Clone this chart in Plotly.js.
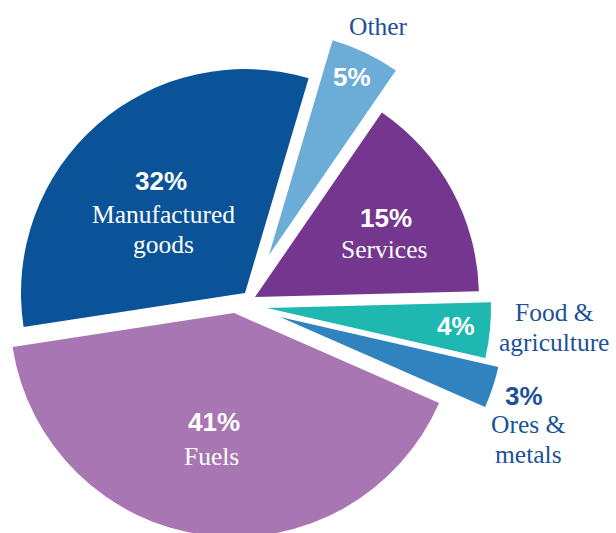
<!DOCTYPE html>
<html>
<head>
<meta charset="utf-8">
<script src="https://cdn.plot.ly/plotly-3.0.1.min.js"></script>
<style>
  html, body { margin: 0; padding: 0; overflow: hidden; background: #ffffff; }
  #chart { width: 616px; height: 560px; }
</style>
</head>
<body>
<div id="chart"></div>
<script>
// ---- data ----
const labels = ['Other', 'Services', 'Food & agriculture', 'Ores & metals', 'Fuels', 'Manufactured goods'];
const values = [5, 15, 4, 3, 41, 32];
const labelLines = [['Other'], ['Services'], ['Food &', 'agriculture'], ['Ores &', 'metals'], ['Fuels'], ['Manufactured', 'goods']];
const colors = ['#6badd6', '#75368f', '#1eb8b1', '#3083be', '#a876b3', '#0a5399'];

// ---- layout config (pixels) ----
const W = 616, H = 560, R = 224;
// where each exploded slice has its apex
const apex = [[269, 255], [255, 297], [267, 308], [280, 317], [234, 313], [245, 293]];
// label placement: percent centre, first-line name centre, colour
const pctPos = [[352, 77], [386, 218], [456, 326], [524, 396], [214, 422], [161, 181]];
const namePos = [[378, 26], [384, 249], [554, 312], [528, 424], [211, 456], [163, 214]];
const pctInside = [true, true, true, false, true, true];
const nameInside = [false, true, false, false, true, true];
const lineGap = 30;
const outerText = '#1b5297';

const total = values.reduce((a, b) => a + b, 0);
const clamp = v => Math.max(0, Math.min(1, v));

const traces = values.map((v, i) => {
  const [cx, cy] = apex[i];
  return {
    type: 'pie',
    labels: labels,
    values: values,
    sort: false,
    direction: 'clockwise',
    rotation: 16.5,
    textinfo: 'none',
    hoverinfo: 'skip',
    showlegend: false,
    marker: {
      colors: colors.map((c, j) => (j === i ? c : 'rgba(0,0,0,0)')),
      line: { width: 0 }
    },
    domain: {
      x: [clamp((cx - R) / W), clamp((cx + R) / W)],
      y: [clamp(1 - (cy + R) / H), clamp(1 - (cy - R) / H)]
    }
  };
});

const annotations = [];
values.forEach((v, i) => {
  const pct = Math.round(v / total * 100) + '%';
  annotations.push({
    xref: 'paper', yref: 'paper',
    x: pctPos[i][0] / W, y: 1 - pctPos[i][1] / H,
    xanchor: 'center', yanchor: 'middle',
    showarrow: false,
    text: '<b>' + pct + '</b>',
    font: { family: 'Liberation Sans, Arial, sans-serif', size: 26, color: pctInside[i] ? '#ffffff' : outerText }
  });
  labelLines[i].forEach((line, k) => {
    annotations.push({
      xref: 'paper', yref: 'paper',
      x: namePos[i][0] / W, y: 1 - (namePos[i][1] + k * lineGap) / H,
      xanchor: 'center', yanchor: 'middle',
      showarrow: false,
      text: line,
      font: { family: 'Liberation Serif, Times New Roman, serif', size: 25.5, color: nameInside[i] ? '#ffffff' : outerText }
    });
  });
});

const layout = {
  width: W, height: H,
  margin: { l: 0, r: 0, t: 0, b: 0 },
  paper_bgcolor: '#ffffff',
  showlegend: false,
  annotations: annotations
};

Plotly.newPlot('chart', traces, layout, { displayModeBar: false, staticPlot: true });
</script>
</body>
</html>
